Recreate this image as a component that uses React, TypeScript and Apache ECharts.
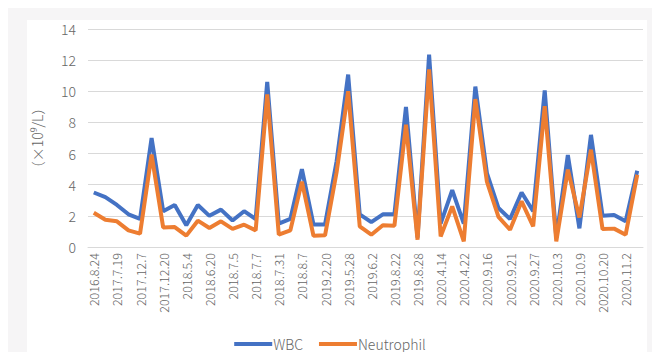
import React, { useEffect, useRef } from "react";
import * as echarts from "echarts";

const categories = [
  "2016.8.24", "", "2017.7.19", "", "2017.12.7", "", "2017.12.20", "",
  "2018.5.4", "", "2018.6.20", "", "2018.7.5", "", "2018.7.7", "",
  "2018.7.31", "", "2018.8.7", "", "2019.2.20", "", "2019.5.28", "",
  "2019.6.2", "", "2019.8.22", "", "2019.8.28", "", "2020.4.14", "",
  "2020.4.22", "", "2020.9.16", "", "2020.9.21", "", "2020.9.27", "",
  "2020.10.3", "", "2020.10.9", "", "2020.10.20", "", "2020.11.2", "",
];

const wbc = [
  3.5, 3.2, 2.7, 2.1, 1.8, 7.0, 2.3, 2.7, 1.4, 2.7, 2.0, 2.4,
  1.7, 2.3, 1.8, 10.6, 1.5, 1.8, 5.0, 1.45, 1.45, 5.5, 11.07, 2.1,
  1.6, 2.1, 2.1, 9.0, 0.6, 12.35, 1.5, 3.65, 1.5, 10.3, 4.75, 2.5,
  1.8, 3.5, 2.3, 10.05, 0.6, 5.9, 1.2, 7.2, 2.0, 2.05, 1.65, 4.9,
];

const neutrophil = [
  2.2, 1.75, 1.65, 1.07, 0.86, 5.93, 1.26, 1.28, 0.73, 1.69, 1.22, 1.65,
  1.16, 1.43, 1.07, 9.8, 0.79, 1.07, 4.2, 0.72, 0.75, 4.8, 10.0, 1.33,
  0.79, 1.4, 1.37, 7.86, 0.47, 11.4, 0.68, 2.61, 0.36, 9.5, 4.2, 1.93,
  1.11, 2.93, 1.33, 9.04, 0.36, 4.97, 1.9, 6.25, 1.15, 1.18, 0.79, 4.64,
];

const seriesNames = ["WBC", "Neutrophil"];
const yAxisName = "（×10⁹/L）";

const FONT = "'Noto Sans CJK SC', 'Noto Sans', sans-serif";
const GREY = "#666666";

export default function App() {
  const ref = useRef<HTMLDivElement>(null);
  useEffect(() => {
    if (!ref.current) return;
    const chart = echarts.init(ref.current, null, { renderer: "svg" });
    chart.setOption({
      animation: false,
      backgroundColor: "transparent",
      grid: { left: 88, right: 17, top: 29, bottom: 113 },
      legend: {
        data: seriesNames,
        bottom: 4,
        left: "center",
        itemWidth: 38,
        itemHeight: 4,
        itemGap: 16,
        icon: "rect",
        textStyle: { color: GREY, fontSize: 14, fontWeight: 300, fontFamily: FONT, padding: [0, 0, 0, -4] },
      },
      xAxis: {
        type: "category",
        data: categories,
        boundaryGap: true,
        axisLine: { lineStyle: { color: "#d9d9d9", width: 1 } },
        axisTick: { show: false },
        axisLabel: {
          interval: 1,
          rotate: 90,
          color: GREY,
          fontSize: 12.5,
          fontWeight: 300,
          fontFamily: FONT,
          margin: 6,
        },
      },
      yAxis: {
        type: "value",
        min: 0,
        max: 14,
        interval: 2,
        name: yAxisName,
        nameLocation: "middle",
        nameRotate: 90,
        nameGap: 44,
        nameTextStyle: { color: GREY, fontSize: 14, fontWeight: 300, fontFamily: FONT },
        axisLine: { show: false },
        axisTick: { show: false },
        axisLabel: { color: GREY, fontSize: 14, fontWeight: 300, fontFamily: FONT, margin: 12 },
        splitLine: { lineStyle: { color: "#d9d9d9", width: 1 } },
      },
      series: [
        {
          name: seriesNames[0],
          type: "line",
          data: wbc,
          symbol: "none",
          lineStyle: { color: "#4472c4", width: 4 },
          itemStyle: { color: "#4472c4" },
        },
        {
          name: seriesNames[1],
          type: "line",
          data: neutrophil,
          symbol: "none",
          lineStyle: { color: "#ed7d31", width: 4 },
          itemStyle: { color: "#ed7d31" },
        },
      ],
    });
    return () => chart.dispose();
  }, []);
  return (
    <div style={{ position: "relative", width: 660, height: 360, margin: -8, background: "#f6f5f6", overflow: "hidden" }}>
      <div
        style={{
          position: "absolute",
          left: 6,
          top: 4,
          width: 700,
          height: 400,
          borderLeft: "2px solid #c8325a",
          borderTop: "2px solid #c8325a",
          boxSizing: "border-box",
        }}
      />
      <div style={{ position: "absolute", left: 27, top: 20, width: 620, height: 338, background: "#ffffff" }} />
      <div ref={ref} style={{ position: "absolute", left: 0, top: 0, width: 660, height: 360 }} />
    </div>
  );
}
